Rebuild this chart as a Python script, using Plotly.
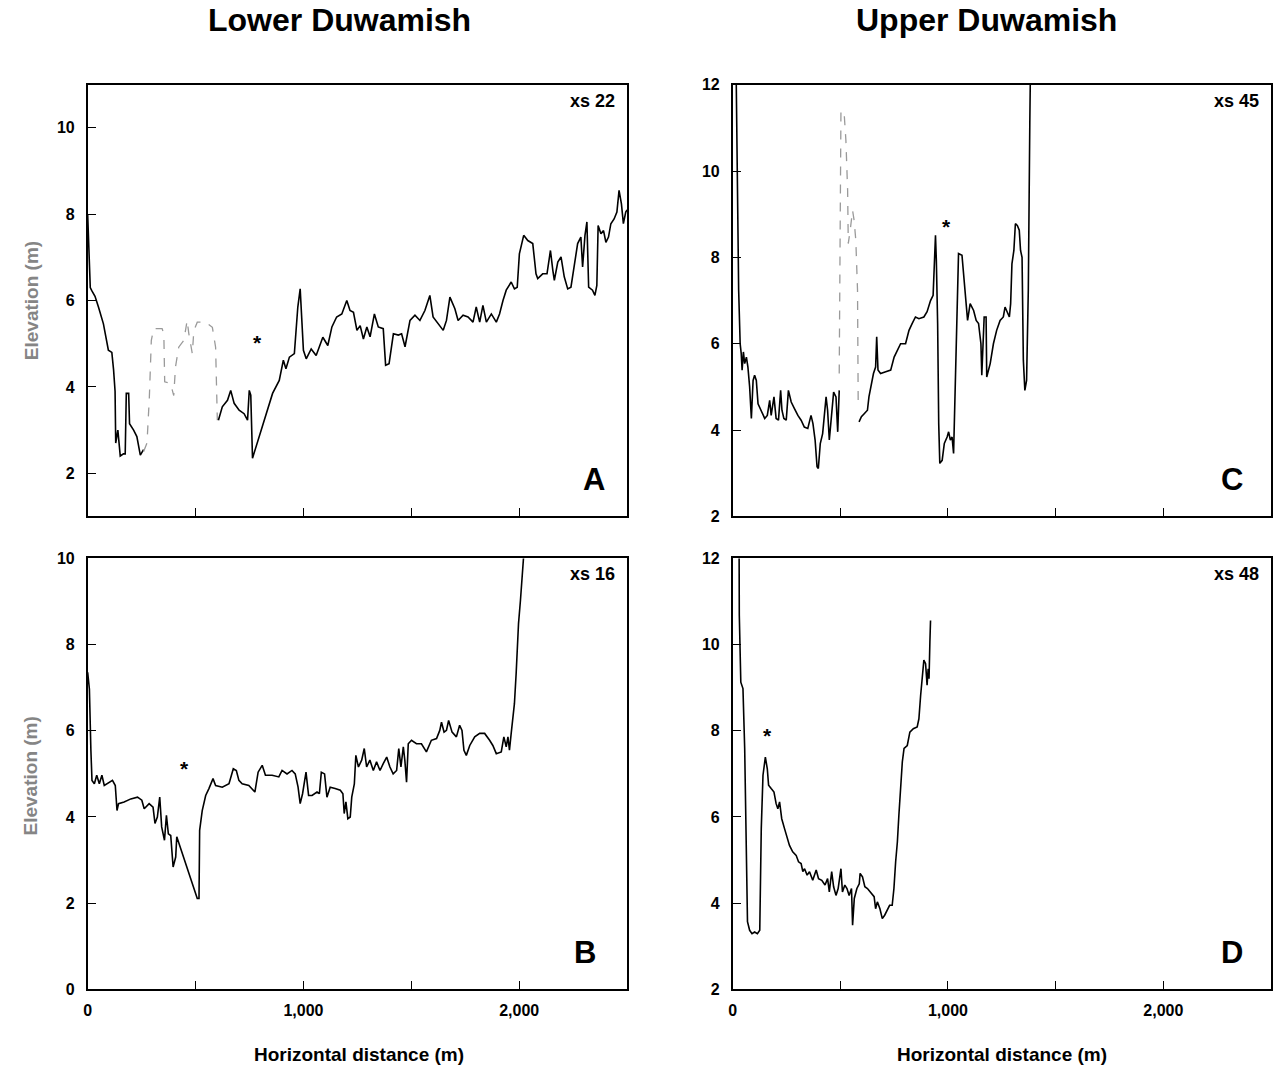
import plotly.graph_objects as go

# ---------------- data ----------------
# Panel A - Lower Duwamish, xs 22
a_x1 = [0, 4, 8, 12, 19, 34, 50, 73, 96, 112, 120, 127, 130, 140, 151, 166, 174, 179, 190, 194, 213, 228, 244, 259]
a_y1 = [8.0, 7.4, 6.6, 6.3, 6.23, 6.1, 5.85, 5.46, 4.85, 4.8, 4.4, 3.9, 2.7, 3.0, 2.4, 2.45, 2.45, 3.85, 3.85, 3.15, 3.0, 2.85, 2.42, 2.55]
a_gx = [259, 275, 286, 295, 306, 345, 353, 357, 384, 399, 407, 422, 446, 461, 469, 485, 492, 508, 547, 578, 593, 601]
a_gy = [2.5, 2.7, 3.77, 5.08, 5.35, 5.35, 5.23, 4.12, 4.08, 3.8, 4.46, 4.92, 5.08, 5.54, 5.23, 4.77, 5.3, 5.5, 5.5, 5.38, 4.92, 3.23]
a_x2 = [606, 624, 648, 663, 679, 702, 725, 741, 749, 756, 764, 811, 857, 888, 907, 919, 935, 958, 974, 985,
        994, 1000, 1013, 1036, 1059, 1090, 1113, 1132, 1154, 1178, 1201, 1216, 1232, 1248, 1263, 1278, 1294, 1309,
        1329, 1347, 1370, 1381, 1397, 1417, 1440, 1455, 1471, 1494, 1517, 1540, 1563, 1586, 1601, 1624, 1648, 1663,
        1679, 1702, 1717, 1740, 1763, 1786, 1801, 1817, 1832, 1848, 1871, 1894, 1909, 1925, 1940, 1963, 1978, 1991,
        2001, 2021, 2040, 2063, 2078, 2086, 2109, 2129, 2145, 2156, 2163, 2179, 2194, 2209, 2225, 2240, 2256, 2271,
        2286, 2294, 2305, 2314, 2322, 2340, 2351, 2360, 2366, 2379, 2391, 2402, 2414, 2425, 2440, 2453, 2463, 2474,
        2483, 2494, 2500]
a_y2 = [3.23, 3.54, 3.69, 3.92, 3.62, 3.46, 3.38, 3.23, 3.92, 3.81, 2.35, 3.08, 3.85, 4.15, 4.62, 4.42, 4.69, 4.77, 5.85, 6.27,
        5.54, 4.85, 4.65, 4.88, 4.73, 5.15, 4.96, 5.39, 5.62, 5.69, 6.0, 5.77, 5.73, 5.31, 5.42, 5.11, 5.39, 5.16,
        5.69, 5.39, 5.35, 4.5, 4.54, 5.23, 5.2, 5.23, 4.93, 5.54, 5.66, 5.54, 5.77, 6.12, 5.62, 5.47, 5.31, 5.54,
        6.08, 5.81, 5.54, 5.66, 5.62, 5.5, 5.85, 5.5, 5.89, 5.5, 5.69, 5.5, 5.69, 6.0, 6.24, 6.43, 6.27, 6.31,
        7.08, 7.51, 7.39, 7.32, 6.62, 6.51, 6.62, 6.62, 7.16, 6.7, 6.47, 6.89, 7.01, 6.55, 6.27, 6.31, 6.81, 7.32,
        7.47, 6.78, 7.51, 7.82, 6.31, 6.24, 6.12, 6.35, 7.74, 7.55, 7.62, 7.35, 7.47, 7.78, 7.89, 8.05, 8.55, 8.24,
        7.78, 8.05, 8.1]

# Panel B - Lower Duwamish, xs 16
b_x = [0, 8, 15, 20, 31, 42, 54, 66, 77, 100, 115, 128, 136, 143, 169, 200, 231, 251, 262, 285, 303, 312, 323, 334,
       343, 356, 365, 374, 385, 396, 408, 413, 439, 470, 508, 516, 519, 531, 547, 562, 581, 593, 624, 655, 675, 689,
       701, 716, 747, 775, 790, 809, 824, 855, 886, 901, 924, 947, 962, 975, 985, 996, 1012, 1024, 1040, 1063, 1074,
       1083, 1098, 1109, 1124, 1147, 1171, 1183, 1189, 1197, 1206, 1217, 1224, 1236, 1243, 1255,
       1270, 1282, 1293, 1308, 1324, 1339, 1355, 1370, 1386, 1401, 1416, 1432, 1442, 1452, 1463, 1470, 1478, 1486,
       1501, 1524, 1547, 1570, 1593, 1617, 1632, 1640, 1652, 1663, 1673, 1689, 1709, 1724, 1735, 1744, 1755, 1771,
       1794, 1817, 1840, 1863, 1878, 1894, 1917, 1929, 1940, 1948, 1955, 1963, 1971, 1978, 1986, 1997, 2006, 2014,
       2020, 2030]
b_y = [7.36, 6.97, 5.54, 4.85, 4.77, 4.97, 4.77, 4.97, 4.73, 4.81, 4.85, 4.73, 4.15, 4.31, 4.35, 4.42, 4.46, 4.39,
       4.19, 4.31, 4.23, 3.85, 4.0, 4.46, 3.77, 3.46, 4.04, 3.61, 3.57, 2.84, 3.07, 3.54, 3.15, 2.69, 2.11, 2.11,
       3.69, 4.15, 4.5, 4.66, 4.89, 4.73, 4.69, 4.77, 5.12, 5.08, 4.85, 4.77, 4.73, 4.58, 5.04, 5.2, 4.97, 4.97,
       4.93, 5.08, 5.0, 5.08, 5.0, 4.7, 4.31, 4.54, 5.04, 4.5, 4.5, 4.58, 4.54, 5.04, 5.0, 4.46, 4.69, 4.66, 4.62,
       4.54, 4.08, 4.35, 3.96, 4.0, 4.46, 4.77, 5.43, 5.16,
       5.32, 5.59, 5.16, 5.32, 5.08, 5.28, 5.08, 5.24, 5.39, 5.16, 5.0, 5.08, 5.59, 5.16, 5.63, 5.32, 4.81, 5.7,
       5.78, 5.7, 5.7, 5.51, 5.78, 5.82, 6.01, 6.2, 5.97, 6.01, 6.24, 5.97, 5.86, 6.13, 6.01, 5.55, 5.43, 5.66,
       5.86, 5.94, 5.94, 5.78, 5.66, 5.47, 5.51, 5.86, 5.63, 5.86, 5.55, 5.94, 6.4, 6.63, 7.33, 8.49, 9.03, 9.65,
       10.0, 10.7]

# Panel C - Upper Duwamish, xs 45
c_x1 = [16, 22, 28, 35, 40, 44, 50, 56, 64, 71, 79, 87, 95, 102, 110, 118, 133, 149, 161, 172, 179, 192, 202, 213,
        223, 229, 238, 249, 259, 272, 287, 303, 318, 333, 349, 364, 373, 383, 392, 398, 407, 418, 434, 441, 449,
        457, 469, 480, 488, 495]
c_y1 = [12.4, 9.17, 7.24, 6.0, 5.77, 5.39, 5.81, 5.54, 5.69, 5.46, 5.0, 4.27, 5.15, 5.27, 5.15, 4.61, 4.46, 4.27,
        4.34, 4.69, 4.34, 4.77, 4.27, 4.23, 4.92, 4.46, 4.27, 4.23, 4.92, 4.65, 4.5, 4.34, 4.23, 4.07, 4.04, 4.34,
        4.15, 3.77, 3.15, 3.11, 3.69, 3.92, 4.77, 4.46, 3.77, 4.15, 4.88, 4.77, 3.96, 4.92]
c_gx = [495, 503, 518, 526, 534, 537, 546, 557, 564, 572, 580, 583, 595]
c_gy = [5.31, 11.4, 11.33, 10.71, 9.55, 8.32, 8.63, 9.09, 8.86, 8.4, 7.24, 4.69, 4.58]
c_x2 = [587, 598, 611, 626, 633, 641, 654, 664, 669, 675, 687, 711, 734, 750, 765, 780, 803, 819, 834, 849, 865,
        888, 903, 919, 931, 937, 942, 946, 952, 957, 962, 973, 983, 996, 1003, 1011, 1019, 1026, 1034, 1042, 1049,
        1065, 1076, 1085, 1091, 1103, 1119, 1131, 1142, 1153, 1157, 1168, 1177, 1180, 1196, 1211, 1226, 1242, 1257,
        1265, 1276, 1285, 1291, 1297, 1306, 1313, 1322, 1331, 1337, 1344, 1350, 1357, 1365, 1373, 1380, 1383]
c_y2 = [4.19, 4.31, 4.38, 4.46, 4.77, 4.96, 5.31, 5.46, 6.16, 5.39, 5.31, 5.35, 5.39, 5.69, 5.85, 6.0, 6.0, 6.31,
        6.47, 6.62, 6.58, 6.62, 6.74, 7.0, 7.12, 7.85, 8.51, 7.93, 6.47, 4.15, 3.23, 3.3, 3.69, 3.84, 3.96, 3.77,
        3.84, 3.46, 5.15, 6.47, 8.09, 8.05, 7.39, 6.93, 6.54, 6.93, 6.77, 6.54, 6.47, 6.0, 5.27, 6.62, 6.62, 5.23,
        5.54, 6.0, 6.31, 6.54, 6.62, 6.85, 6.74, 6.62, 6.93, 7.85, 8.16, 8.78, 8.74, 8.63, 8.16, 8.0, 5.62, 4.92,
        5.15, 7.24, 11.1, 12.4]

# Panel D - Upper Duwamish, xs 48
d_x = [30, 31, 38, 48, 56, 64, 69, 79, 90, 102, 115, 126, 133, 141, 152, 161, 167, 179, 192, 202, 210, 218, 228,
       241, 253, 264, 279, 295, 306, 318, 326, 334, 346, 357, 372, 388, 399, 414, 429, 441, 449, 460, 469, 480, 490,
       503, 510, 521, 531, 541, 552, 557, 565, 577, 588, 592, 603, 614, 626, 641, 657, 664, 672, 684, 695, 706, 718,
       729, 741, 749, 757, 765, 772, 780, 788, 796, 811, 823, 839, 857, 865, 873, 880, 888, 896, 903, 908, 912, 916,
       919]
d_y = [12.3, 10.68, 9.13, 8.98, 7.59, 5.5, 3.57, 3.37, 3.29, 3.33, 3.29, 3.37, 5.73, 6.97, 7.39, 7.12, 6.74, 6.66,
       6.58, 6.31, 6.19, 6.35, 5.96, 5.73, 5.5, 5.34, 5.19, 5.11, 4.96, 4.92, 4.73, 4.8, 4.65, 4.73, 4.53, 4.77,
       4.57, 4.53, 4.42, 4.57, 4.26, 4.73, 4.38, 4.18, 4.34, 4.8, 4.26, 4.42, 4.34, 4.18, 4.34, 3.49, 4.11, 4.34,
       4.45, 4.69, 4.61, 4.38, 4.34, 4.26, 4.15, 3.87, 4.03, 3.87, 3.64, 3.72, 3.84, 3.95, 3.95, 4.34, 4.96, 5.42,
       6.04, 6.81, 7.28, 7.59, 7.66, 7.97, 8.05, 8.09, 8.28, 8.82, 9.29, 9.64, 9.56, 9.06, 9.44, 9.21, 10.06, 10.56]

# star markers (x, y) per panel and panel labels
star_a = (785, 5.03)
star_b = (448, 5.13)
star_c = (995, 8.71)
star_d = (164, 7.89)
xs_labels = ["xs 22", "xs 16", "xs 45", "xs 48"]
panel_letters = ["A", "B", "C", "D"]
x_tickvals = [0, 500, 1000, 1500, 2000, 2500]
x_ticktext = ["0", "", "1,000", "", "2,000", ""]

# ---------------- figure ----------------
W, H = 1273, 1068
FONT = "Liberation Sans, Arial, sans-serif"
black_line = dict(color="black", width=1.6)
gray_line = dict(color="#9a9a9a", width=1.3, dash="dash")

fig = go.Figure()
fig.add_trace(go.Scatter(x=a_x1, y=a_y1, mode="lines", line=black_line, xaxis="x", yaxis="y"))
fig.add_trace(go.Scatter(x=a_gx, y=a_gy, mode="lines", line=gray_line, xaxis="x", yaxis="y"))
fig.add_trace(go.Scatter(x=a_x2, y=a_y2, mode="lines", line=black_line, xaxis="x", yaxis="y"))
fig.add_trace(go.Scatter(x=b_x, y=b_y, mode="lines", line=black_line, xaxis="x2", yaxis="y2"))
fig.add_trace(go.Scatter(x=c_x1, y=c_y1, mode="lines", line=black_line, xaxis="x3", yaxis="y3"))
fig.add_trace(go.Scatter(x=c_gx, y=c_gy, mode="lines", line=gray_line, xaxis="x3", yaxis="y3"))
fig.add_trace(go.Scatter(x=c_x2, y=c_y2, mode="lines", line=black_line, xaxis="x3", yaxis="y3"))
fig.add_trace(go.Scatter(x=d_x, y=d_y, mode="lines", line=black_line, xaxis="x4", yaxis="y4"))

L_DOM = [84 / W, 625.5 / W]
R_DOM = [731.5 / W, 1272 / W]
T_DOM = [1 - 516.7 / H, 1 - 77.9 / H]
B_DOM = [1 - 997.2 / H, 1 - 559.4 / H]

tickfont = dict(family=FONT, size=16, color="black", weight="bold")


def xax(domain, anchor, labels):
    return dict(domain=domain, anchor=anchor, range=[0, 2500], showline=True, linecolor="black",
                linewidth=1.5, mirror=True, ticks="inside", ticklen=9, tickwidth=1.3, tickcolor="black",
                tickvals=x_tickvals, ticktext=x_ticktext, showticklabels=labels, showgrid=False,
                zeroline=False, tickfont=tickfont, ticklabelstandoff=6)


def yax(domain, anchor, rng):
    return dict(domain=domain, anchor=anchor, range=rng, showline=True, linecolor="black",
                linewidth=1.5, mirror=True, ticks="inside", ticklen=9, tickwidth=1.3, tickcolor="black",
                dtick=2, tick0=0, showgrid=False, zeroline=False, tickfont=tickfont, ticklabelstandoff=8)


annotations = []


def ann(text, x, y, xref="paper", yref="paper", size=16, xanchor="center", yanchor="middle",
        color="black", bold=True, angle=0):
    annotations.append(dict(text=text, x=x, y=y, xref=xref, yref=yref, showarrow=False,
                            xanchor=xanchor, yanchor=yanchor, textangle=angle,
                            font=dict(family=FONT, size=size, color=color,
                                      weight="bold" if bold else "normal")))


# column titles
ann("Lower Duwamish", 337 / W, 1 - 12 / H, size=32)
ann("Upper Duwamish", 986 / W, 1 - 12 / H, size=32)
# x-axis titles
ann("Horizontal distance (m)", 356 / W, 1 - 1063 / H, size=19)
ann("Horizontal distance (m)", 1002 / W, 1 - 1063 / H, size=19)
# y-axis titles
ann("Elevation (m)", 27 / W, 1 - 297 / H, size=19, color="#858585", angle=-90)
ann("Elevation (m)", 27 / W, 1 - 780 / H, size=19, color="#858585", angle=-90)

panels = [("x", "y"), ("x2", "y2"), ("x3", "y3"), ("x4", "y4")]
stars = [star_a, star_b, star_c, star_d]
letter_x = [0.962, 0.946, 0.951, 0.951]
for (xa, ya), xs, letter, st, lx in zip(panels, xs_labels, panel_letters, stars, letter_x):
    ann(xs, 0.981, 0.963, xref=xa + " domain", yref=ya + " domain", size=18, xanchor="right")
    ann(letter, lx, 0.085, xref=xa + " domain", yref=ya + " domain", size=31, xanchor="right")
    ann("*", st[0], st[1], xref=xa, yref=ya, size=21, bold=True)

fig.update_layout(
    width=W, height=H,
    margin=dict(l=0, r=0, t=0, b=0),
    paper_bgcolor="white", plot_bgcolor="white",
    showlegend=False,
    xaxis=xax(L_DOM, "y", False),
    yaxis=yax(T_DOM, "x", [1, 11]),
    xaxis2=xax(L_DOM, "y2", True),
    yaxis2=yax(B_DOM, "x2", [0, 10]),
    xaxis3=xax(R_DOM, "y3", False),
    yaxis3=yax(T_DOM, "x3", [2, 12]),
    xaxis4=xax(R_DOM, "y4", True),
    yaxis4=yax(B_DOM, "x4", [2, 12]),
    annotations=annotations,
)

fig.write_html(
    "out.html",
    config={"displayModeBar": False},
    post_script="document.body.style.margin='0';document.body.style.overflow='hidden';"
                "document.documentElement.style.overflow='hidden';",
)
